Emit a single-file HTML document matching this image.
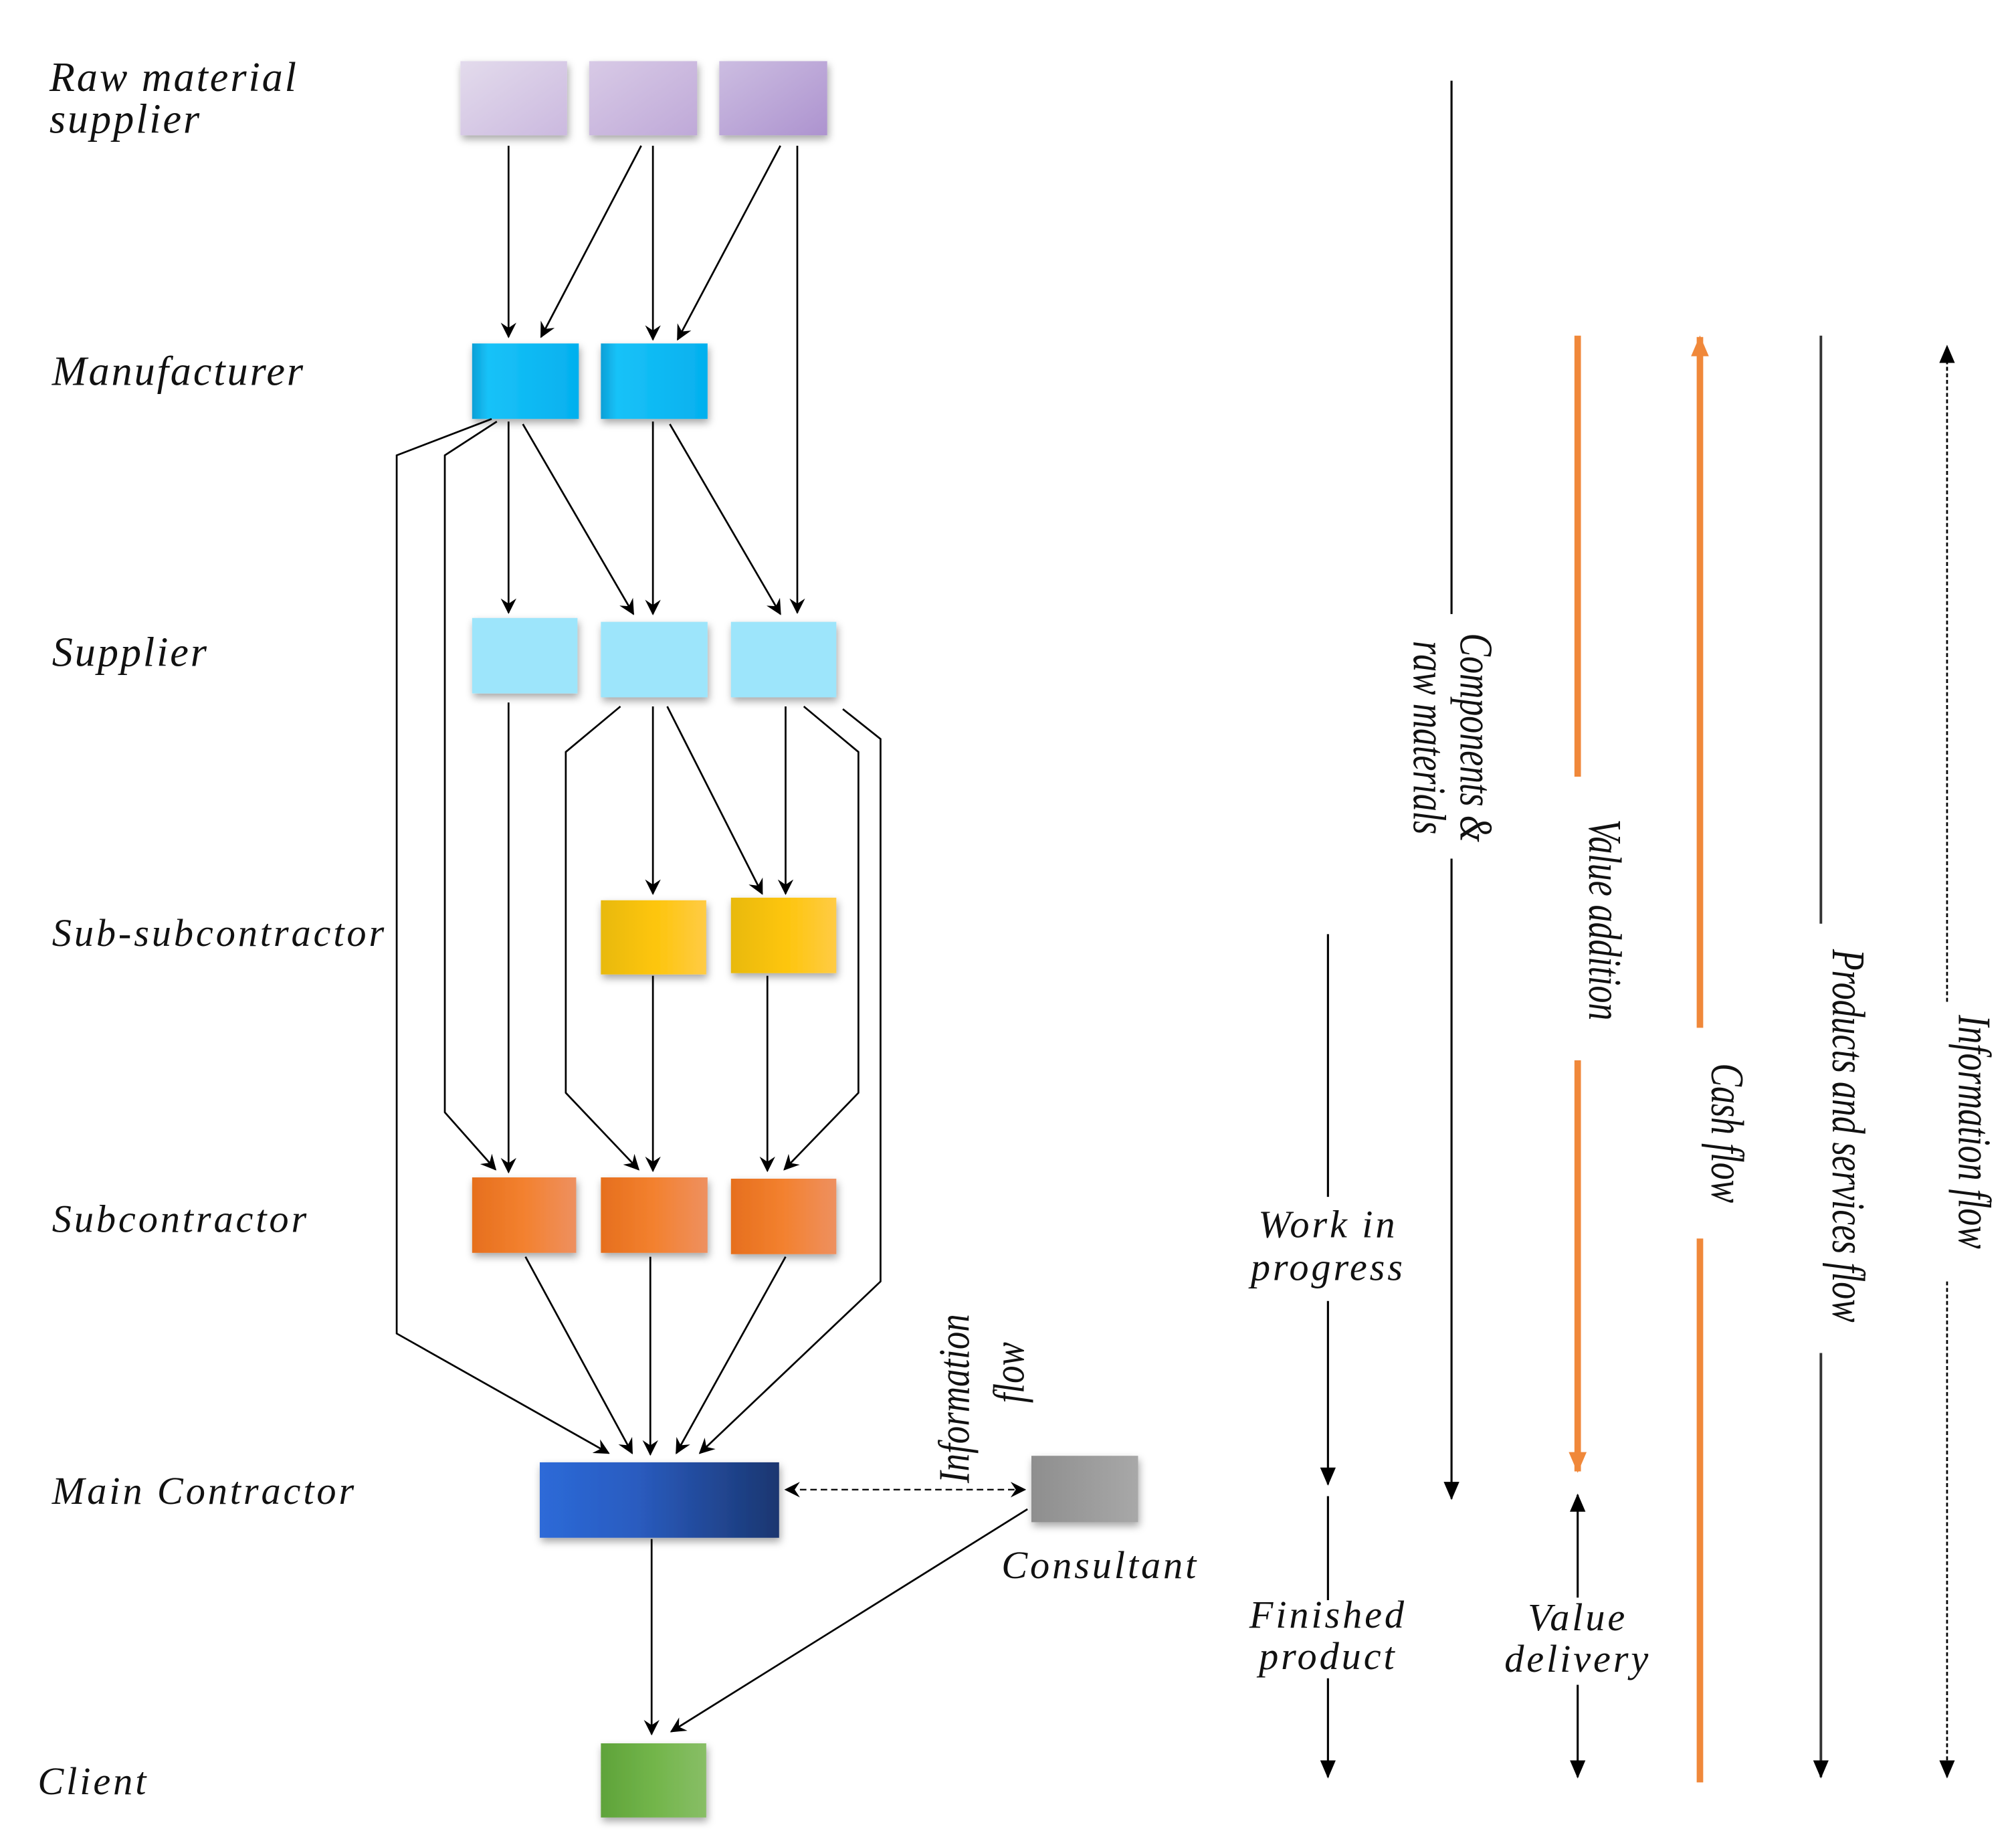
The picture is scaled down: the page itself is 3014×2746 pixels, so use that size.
<!DOCTYPE html>
<html><head><meta charset="utf-8"><style>
html,body{margin:0;padding:0;background:#fff;}
svg{display:block;}
text{font-family:"Liberation Serif",serif;font-style:italic;fill:#111;}
</style></head><body>
<svg width="3014" height="2746" viewBox="0 0 1550 1412" preserveAspectRatio="none" xmlns="http://www.w3.org/2000/svg">
<defs>
<marker id="a" viewBox="0 0 12 12" refX="11" refY="6" markerWidth="12" markerHeight="12" markerUnits="userSpaceOnUse" orient="auto"><path d="M0,0 L12,6 L0,12 L4,6 z" fill="#000"/></marker>
<marker id="t" viewBox="0 0 14 12" refX="13" refY="6" markerWidth="14" markerHeight="14" markerUnits="userSpaceOnUse" orient="auto"><path d="M0,0 L14,6 L0,12 z" fill="#000"/></marker>
<marker id="to" viewBox="0 0 14 12" refX="13" refY="6" markerWidth="16" markerHeight="16" markerUnits="userSpaceOnUse" orient="auto"><path d="M0,0 L14,6 L0,12 z" fill="#f0883a"/></marker>
<linearGradient id="lav1" x1="0" y1="0" x2="1" y2="1"><stop offset="0" stop-color="#e3dbec"/><stop offset="1" stop-color="#cbb9df"/></linearGradient>
<linearGradient id="lav2" x1="0" y1="0" x2="1" y2="1"><stop offset="0" stop-color="#d8cae6"/><stop offset="1" stop-color="#bfa9d8"/></linearGradient>
<linearGradient id="lav3" x1="0" y1="0" x2="1" y2="1"><stop offset="0" stop-color="#ccbde1"/><stop offset="1" stop-color="#ad93cf"/></linearGradient>
<linearGradient id="cy" x1="0" x2="1"><stop offset="0" stop-color="#0a9fd6"/><stop offset=".15" stop-color="#18c2f8"/><stop offset="1" stop-color="#04b0ee"/></linearGradient>
<linearGradient id="go" x1="0" x2="1"><stop offset="0" stop-color="#e8b90a"/><stop offset=".5" stop-color="#fdc50a"/><stop offset="1" stop-color="#ffcb45"/></linearGradient>
<linearGradient id="or" x1="0" x2="1"><stop offset="0" stop-color="#e66f1e"/><stop offset=".5" stop-color="#f3812f"/><stop offset="1" stop-color="#ee9060"/></linearGradient>
<linearGradient id="bl" x1="0" x2="1"><stop offset="0" stop-color="#2d6ad8"/><stop offset=".4" stop-color="#2a5cc0"/><stop offset="1" stop-color="#1a3670"/></linearGradient>
<linearGradient id="gr" x1="0" x2="1"><stop offset="0" stop-color="#8e8e8e"/><stop offset="1" stop-color="#a8a8a8"/></linearGradient>
<linearGradient id="gn" x1="0" x2="1"><stop offset="0" stop-color="#5fa33a"/><stop offset=".5" stop-color="#72b54a"/><stop offset="1" stop-color="#88be66"/></linearGradient>
<filter id="sh" x="-20%" y="-20%" width="150%" height="160%"><feDropShadow dx="1" dy="3" stdDeviation="3" flood-color="#000" flood-opacity="0.35"/></filter>
</defs>

<g filter="url(#sh)">
<rect x="354" y="47" width="82" height="57" fill="url(#lav1)"/>
<rect x="453" y="47" width="83" height="57" fill="url(#lav2)"/>
<rect x="553" y="47" width="83" height="57" fill="url(#lav3)"/>
<rect x="363" y="264" width="82" height="58" fill="url(#cy)"/>
<rect x="462" y="264" width="82" height="58" fill="url(#cy)"/>
<rect x="363" y="475" width="81" height="58" fill="#9de5fb"/>
<rect x="462" y="478" width="82" height="58" fill="#9de5fb"/>
<rect x="562" y="478" width="81" height="58" fill="#9de5fb"/>
<rect x="462" y="692" width="81" height="57" fill="url(#go)"/>
<rect x="562" y="690" width="81" height="58" fill="url(#go)"/>
<rect x="363" y="905" width="80" height="58" fill="url(#or)"/>
<rect x="462" y="905" width="82" height="58" fill="url(#or)"/>
<rect x="562" y="906" width="81" height="58" fill="url(#or)"/>
<rect x="415" y="1124" width="184" height="58" fill="url(#bl)"/>
<rect x="793" y="1119" width="82" height="51" fill="url(#gr)"/>
<rect x="462" y="1340" width="81" height="57" fill="url(#gn)"/>
</g>

<g stroke="#000" stroke-width="1.4" fill="none" marker-end="url(#a)">
<line x1="391" y1="112" x2="391" y2="259"/>
<line x1="493" y1="112" x2="416" y2="259"/>
<line x1="502" y1="112" x2="502" y2="261"/>
<line x1="600" y1="112" x2="521" y2="261"/>
<line x1="613" y1="112" x2="613" y2="471"/>
<polyline points="378,322 305,350 305,1025 468,1117"/>
<polyline points="382,324 342,350 342,855 381,899"/>
<line x1="391" y1="324" x2="391" y2="471"/>
<line x1="402" y1="326" x2="487" y2="472"/>
<line x1="502" y1="324" x2="502" y2="472"/>
<line x1="515" y1="326" x2="600" y2="472"/>
<line x1="391" y1="540" x2="391" y2="901"/>
<polyline points="477,543 435,578 435,840 491,899"/>
<line x1="502" y1="543" x2="502" y2="687"/>
<line x1="513" y1="543" x2="586" y2="687"/>
<line x1="604" y1="543" x2="604" y2="687"/>
<polyline points="618,543 660,578 660,840 603,899"/>
<polyline points="648,545 677,568 677,985 538,1117"/>
<line x1="502" y1="750" x2="502" y2="900"/>
<line x1="590" y1="750" x2="590" y2="900"/>
<line x1="404" y1="966" x2="486" y2="1117"/>
<line x1="500" y1="966" x2="500" y2="1118"/>
<line x1="604" y1="966" x2="520" y2="1117"/>
<line x1="501" y1="1183" x2="501" y2="1333"/>
<line x1="790" y1="1160" x2="516" y2="1331"/>
</g>
<line x1="615" y1="1145" x2="788" y2="1145" stroke="#000" stroke-width="1.2" stroke-dasharray="5,3" marker-end="url(#a)"/>
<path d="M603,1145 L615,1139 L611,1145 L615,1151 z" fill="#000"/>

<g font-size="32" letter-spacing="1.5">
<text x="38" y="70">Raw material</text>
<text x="38" y="102">supplier</text>
<text x="40" y="296">Manufacturer</text>
<text x="40" y="512">Supplier</text>
</g>
<g font-size="30" letter-spacing="2">
<text x="40" y="727">Sub-subcontractor</text>
<text x="40" y="947">Subcontractor</text>
<text x="40" y="1156">Main Contractor</text>
<text x="29" y="1379">Client</text>
<text x="770" y="1213">Consultant</text>
</g>
<g font-size="34" transform="translate(745,1075) rotate(-90)">
<text x="0" y="0" text-anchor="middle" transform="scale(0.8,1)">Information</text>
<text x="25" y="42" text-anchor="middle" transform="scale(0.8,1)">flow</text>
</g>

<g stroke-width="1.6" fill="none">
<line x1="1116" y1="62" x2="1116" y2="472" stroke="#000"/>
<line x1="1116" y1="660" x2="1116" y2="1152" stroke="#000" marker-end="url(#t)"/>
<line x1="1021" y1="718" x2="1021" y2="920" stroke="#000"/>
<line x1="1021" y1="1000" x2="1021" y2="1141" stroke="#000" marker-end="url(#t)"/>
<line x1="1021" y1="1150" x2="1021" y2="1230" stroke="#000"/>
<line x1="1021" y1="1290" x2="1021" y2="1366" stroke="#000" marker-end="url(#t)"/>
<line x1="1213" y1="258" x2="1213" y2="597" stroke="#f0883a" stroke-width="5"/>
<line x1="1213" y1="815" x2="1213" y2="1131" stroke="#f0883a" stroke-width="5" marker-end="url(#to)"/>
<line x1="1213" y1="1228" x2="1213" y2="1149" stroke="#000" marker-end="url(#t)"/>
<line x1="1213" y1="1295" x2="1213" y2="1366" stroke="#000" marker-end="url(#t)"/>
<line x1="1307" y1="790" x2="1307" y2="259" stroke="#f0883a" stroke-width="5" marker-end="url(#to)"/>
<line x1="1307" y1="952" x2="1307" y2="1370" stroke="#f0883a" stroke-width="5"/>
<line x1="1400" y1="258" x2="1400" y2="710" stroke="#333" stroke-width="2"/>
<line x1="1400" y1="1040" x2="1400" y2="1366" stroke="#333" stroke-width="2" marker-end="url(#t)"/>
<line x1="1497" y1="770" x2="1497" y2="266" stroke="#000" stroke-width="1.4" stroke-dasharray="3,2" marker-end="url(#t)"/>
<line x1="1497" y1="985" x2="1497" y2="1366" stroke="#000" stroke-width="1.4" stroke-dasharray="3,2" marker-end="url(#t)"/>
</g>

<g font-size="30" text-anchor="middle" letter-spacing="2">
<text x="1021" y="951">Work in</text>
<text x="1021" y="984">progress</text>
<text x="1021" y="1251">Finished</text>
<text x="1021" y="1283">product</text>
<text x="1213" y="1253">Value</text>
<text x="1213" y="1285">delivery</text>
</g>
<g font-size="36">
<g transform="translate(1117,567) rotate(90)"><text text-anchor="middle" y="-6" transform="scale(0.74,1)">Components &amp;</text><text text-anchor="middle" y="30" transform="scale(0.74,1)">raw materials</text></g>
<g transform="translate(1213,707) rotate(90)"><text text-anchor="middle" y="-9" transform="scale(0.74,1)">Value addition</text></g>
<g transform="translate(1307,871) rotate(90)"><text text-anchor="middle" y="-9" transform="scale(0.74,1)">Cash flow</text></g>
<g transform="translate(1400,873) rotate(90)"><text text-anchor="middle" y="-9" transform="scale(0.74,1)">Products and services flow</text></g>
<g transform="translate(1497,870) rotate(90)"><text text-anchor="middle" y="-9" transform="scale(0.74,1)">Information flow</text></g>
</g>
</svg>
</body></html>
